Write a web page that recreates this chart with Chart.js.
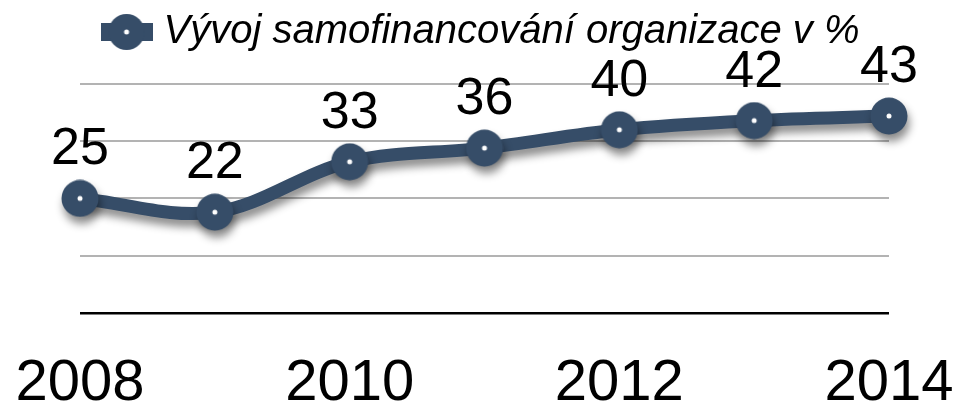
<!DOCTYPE html>
<html>
<head>
<meta charset="utf-8">
<script src="https://cdn.jsdelivr.net/npm/chart.js@4/dist/chart.umd.min.js"></script>
<style>
  html, body { margin: 0; padding: 0; background: #fff; }
  canvas { display: block; }
</style>
</head>
<body>
<canvas id="chart" width="960" height="406"></canvas>
<script>
const years = ['2008', '2009', '2010', '2011', '2012', '2013', '2014'];
const selfFinancing = [25, 22, 33, 36, 40, 42, 43];
const seriesLabel = 'Vývoj samofinancování organizace v %';

const LINE = '#364d68';
const FONT = '"Liberation Sans", Arial, sans-serif';

// point marker: dark disc with a small white dot in the middle
function makeMarker(w, h, r, lineW) {
    const c = document.createElement('canvas');
    c.width = w;
    c.height = h;
    const g = c.getContext('2d');
    if (lineW) {
        g.fillStyle = LINE;
        g.fillRect(0, h / 2 - lineW / 2, w, lineW);
    }
    g.fillStyle = LINE;
    g.beginPath();
    g.arc(w / 2, h / 2, r, 0, Math.PI * 2);
    g.fill();
    g.fillStyle = '#fff';
    g.beginPath();
    g.arc(w / 2, h / 2, 2.5, 0, Math.PI * 2);
    g.fill();
    return c;
}
const pointIcon = makeMarker(38, 38, 18.5, 0);
const legendIcon = makeMarker(52, 38, 18, 18);

const lineShadow = {
    id: 'lineShadow',
    beforeDatasetDraw(chart) {
        const ctx = chart.ctx;
        ctx.save();
        ctx.shadowColor = 'rgba(0, 0, 0, 0.45)';
        ctx.shadowBlur = 9;
        ctx.shadowOffsetX = 2;
        ctx.shadowOffsetY = 7;
    },
    afterDatasetDraw(chart) {
        chart.ctx.restore();
    }
};

const valueLabels = {
    id: 'valueLabels',
    afterDatasetsDraw(chart) {
        const ctx = chart.ctx;
        const meta = chart.getDatasetMeta(0);
        ctx.save();
        ctx.font = '52px ' + FONT;
        ctx.fillStyle = '#000';
        ctx.textAlign = 'center';
        ctx.textBaseline = 'alphabetic';
        meta.data.forEach((pt, i) => {
            ctx.fillText(String(selfFinancing[i]), pt.x, pt.y - 34);
        });
        ctx.restore();
    }
};

// extra room between legend and plot
const legendGap = {
    id: 'legendGap',
    beforeInit(chart) {
        const fit = chart.legend.fit;
        chart.legend.fit = function () {
            fit.bind(chart.legend)();
            this.height += 22;
        };
    }
};

new Chart(document.getElementById('chart').getContext('2d'), {
    type: 'line',
    data: {
        labels: years,
        datasets: [{
            label: seriesLabel,
            data: selfFinancing,
            borderColor: LINE,
            backgroundColor: LINE,
            borderWidth: 13,
            tension: 0.35,
            pointStyle: pointIcon,
            pointRadius: 18,
            fill: false,
        }]
    },
    options: {
        responsive: false,
        animation: false,
        devicePixelRatio: 1,
        layout: { padding: { left: 80, right: 71, top: 0, bottom: -50 } },
        scales: {
            x: {
                offset: false,
                grid: { display: false, drawTicks: false },
                border: { display: false },
                ticks: {
                    autoSkip: false,
                    maxRotation: 0,
                    minRotation: 0,
                    padding: 4,
                    color: '#000',
                    font: { family: FONT, size: 58, lineHeight: 2.33 },
                    callback: (v, i) => (i % 2 === 0 ? years[i] : '')
                }
            },
            y: {
                min: 0,
                max: 50,
                border: { display: false },
                grid: {
                    drawTicks: false,
                    color: (c) => (c.tick.value === 0 ? '#000' : '#b3b3b3'),
                    lineWidth: (c) => (c.tick.value === 0 ? 2.5 : 2)
                },
                ticks: { display: false, stepSize: 12.5 }
            }
        },
        plugins: {
            legend: {
                position: 'top',
                labels: {
                    usePointStyle: true,
                    pointStyleWidth: 34,
                    padding: 12,
                    color: '#000',
                    font: { family: FONT, size: 40, style: 'italic' },
                    generateLabels: (chart) => {
                        const items = Chart.defaults.plugins.legend.labels.generateLabels(chart);
                        items.forEach(it => { it.pointStyle = legendIcon; });
                        return items;
                    }
                }
            },
            tooltip: { enabled: false }
        }
    },
    plugins: [legendGap, lineShadow, valueLabels]
});
</script>
</body>
</html>
